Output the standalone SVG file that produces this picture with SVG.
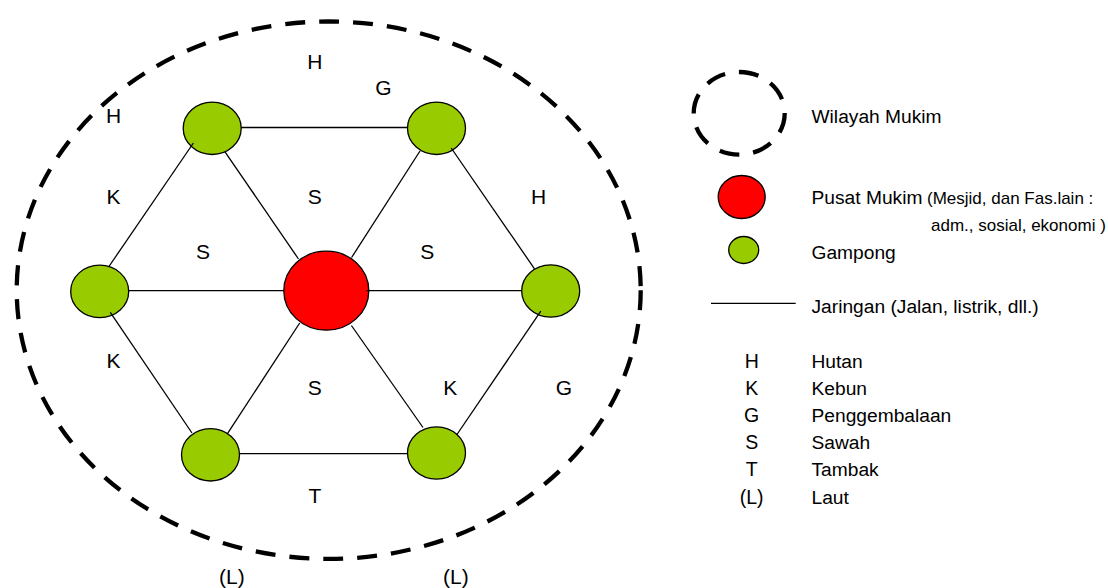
<svg xmlns="http://www.w3.org/2000/svg" width="1108" height="588" viewBox="0 0 1108 588">
<style>
text{font-family:"Liberation Sans",Arial,sans-serif;fill:#000}
.lbl{font-size:21px;text-anchor:middle}
.leg{font-size:19.2px}
.sm{font-size:17px}
.code{font-size:19.5px;text-anchor:middle}
.dash{fill:none;stroke:#000;stroke-width:4.3;stroke-dasharray:20 14}
.g{fill:#99CC00;stroke:#000;stroke-width:1.3}
.r{fill:#FF0000;stroke:#000;stroke-width:1.3}
.ln{stroke:#000;stroke-width:1.3;fill:none}
</style>
<rect width="1108" height="588" fill="#fff"/>
<g id="wilayah-mukim">
<ellipse class="dash" cx="328.7" cy="290.2" rx="312" ry="268.7"/>
</g>
<g id="pusat-mukim"><ellipse class="r" cx="326.3" cy="290.7" rx="42.5" ry="39.5"/></g>
<g id="gampong-tl"><ellipse class="g" cx="212.2" cy="128.3" rx="29" ry="26.2"/></g>
<g id="gampong-tr"><ellipse class="g" cx="436.5" cy="128.3" rx="29" ry="26.2"/></g>
<g id="gampong-l"><ellipse class="g" cx="99.7" cy="291.4" rx="29" ry="26.2"/></g>
<g id="gampong-r"><ellipse class="g" cx="550.7" cy="291" rx="29" ry="26.2"/></g>
<g id="gampong-bl"><ellipse class="g" cx="210.5" cy="454.8" rx="29" ry="26.2"/></g>
<g id="gampong-br"><ellipse class="g" cx="436.5" cy="453" rx="29" ry="26.2"/></g>
<g id="connectors">
<line class="ln" x1="241" y1="127.5" x2="407.5" y2="127.5"/>
<line class="ln" x1="239" y1="453.7" x2="407.5" y2="453.7"/>
<line class="ln" x1="128.8" y1="290.6" x2="283.8" y2="290.6"/>
<line class="ln" x1="366.5" y1="290.6" x2="521.7" y2="290.6"/>
<line class="ln" x1="225" y1="151.8" x2="298.5" y2="259"/>
<line class="ln" x1="420" y1="151" x2="351.6" y2="257.5"/>
<line class="ln" x1="193.4" y1="143" x2="108.6" y2="267"/>
<line class="ln" x1="451.2" y1="148" x2="534.5" y2="268.8"/>
<line class="ln" x1="110.3" y1="312.3" x2="192" y2="433"/>
<line class="ln" x1="299.7" y1="323" x2="227.3" y2="433.8"/>
<line class="ln" x1="351.4" y1="325.5" x2="423" y2="427.5"/>
<line class="ln" x1="540.8" y1="311.2" x2="456.6" y2="435"/>
</g>
<g id="labels">
<text class="lbl" x="314.8" y="68.5">H</text>
<text class="lbl" x="383.3" y="95.3">G</text>
<text class="lbl" x="113.6" y="122.5">H</text>
<text class="lbl" x="113.6" y="204.3">K</text>
<text class="lbl" x="314.8" y="204.3">S</text>
<text class="lbl" x="538.7" y="204.3">H</text>
<text class="lbl" x="202.9" y="258.7">S</text>
<text class="lbl" x="427.2" y="258.7">S</text>
<text class="lbl" x="113.6" y="367.5">K</text>
<text class="lbl" x="314.8" y="394.5">S</text>
<text class="lbl" x="450.3" y="394.5">K</text>
<text class="lbl" x="564" y="394.5">G</text>
<text class="lbl" x="314.8" y="502.5">T</text>
<text class="lbl" x="231.8" y="584">(L)</text>
<text class="lbl" x="455.8" y="584">(L)</text>
</g>
<g id="legend">
<ellipse class="dash" cx="739.2" cy="113.3" rx="45.5" ry="41.3"/>
<text class="leg" x="811.5" y="123.3">Wilayah Mukim</text>
<ellipse class="r" cx="741.7" cy="197" rx="23.5" ry="21.5"/>
<text class="leg" x="811.5" y="203.5">Pusat Mukim</text>
<text class="sm" x="927" y="203.5">(Mesjid, dan Fas.lain :</text>
<text class="sm" x="931" y="231">adm., sosial, ekonomi )</text>
<ellipse class="g" cx="743.7" cy="250" rx="15" ry="13.5"/>
<text class="leg" x="811.5" y="259">Gampong</text>
<line class="ln" x1="711" y1="303.3" x2="795.7" y2="303.3"/>
<text class="leg" x="811.5" y="313.3">Jaringan (Jalan, listrik, dll.)</text>
<text class="code" x="751.7" y="367.5">H</text>
<text class="leg" x="811.5" y="367.5">Hutan</text>
<text class="code" x="751.7" y="394.5">K</text>
<text class="leg" x="811.5" y="394.5">Kebun</text>
<text class="code" x="751.7" y="421.7">G</text>
<text class="leg" x="811.5" y="421.7">Penggembalaan</text>
<text class="code" x="751.7" y="449">S</text>
<text class="leg" x="811.5" y="449">Sawah</text>
<text class="code" x="751.7" y="476">T</text>
<text class="leg" x="811.5" y="476">Tambak</text>
<text class="code" x="751.7" y="503.5">(L)</text>
<text class="leg" x="811.5" y="503.5">Laut</text>
</g>
</svg>
